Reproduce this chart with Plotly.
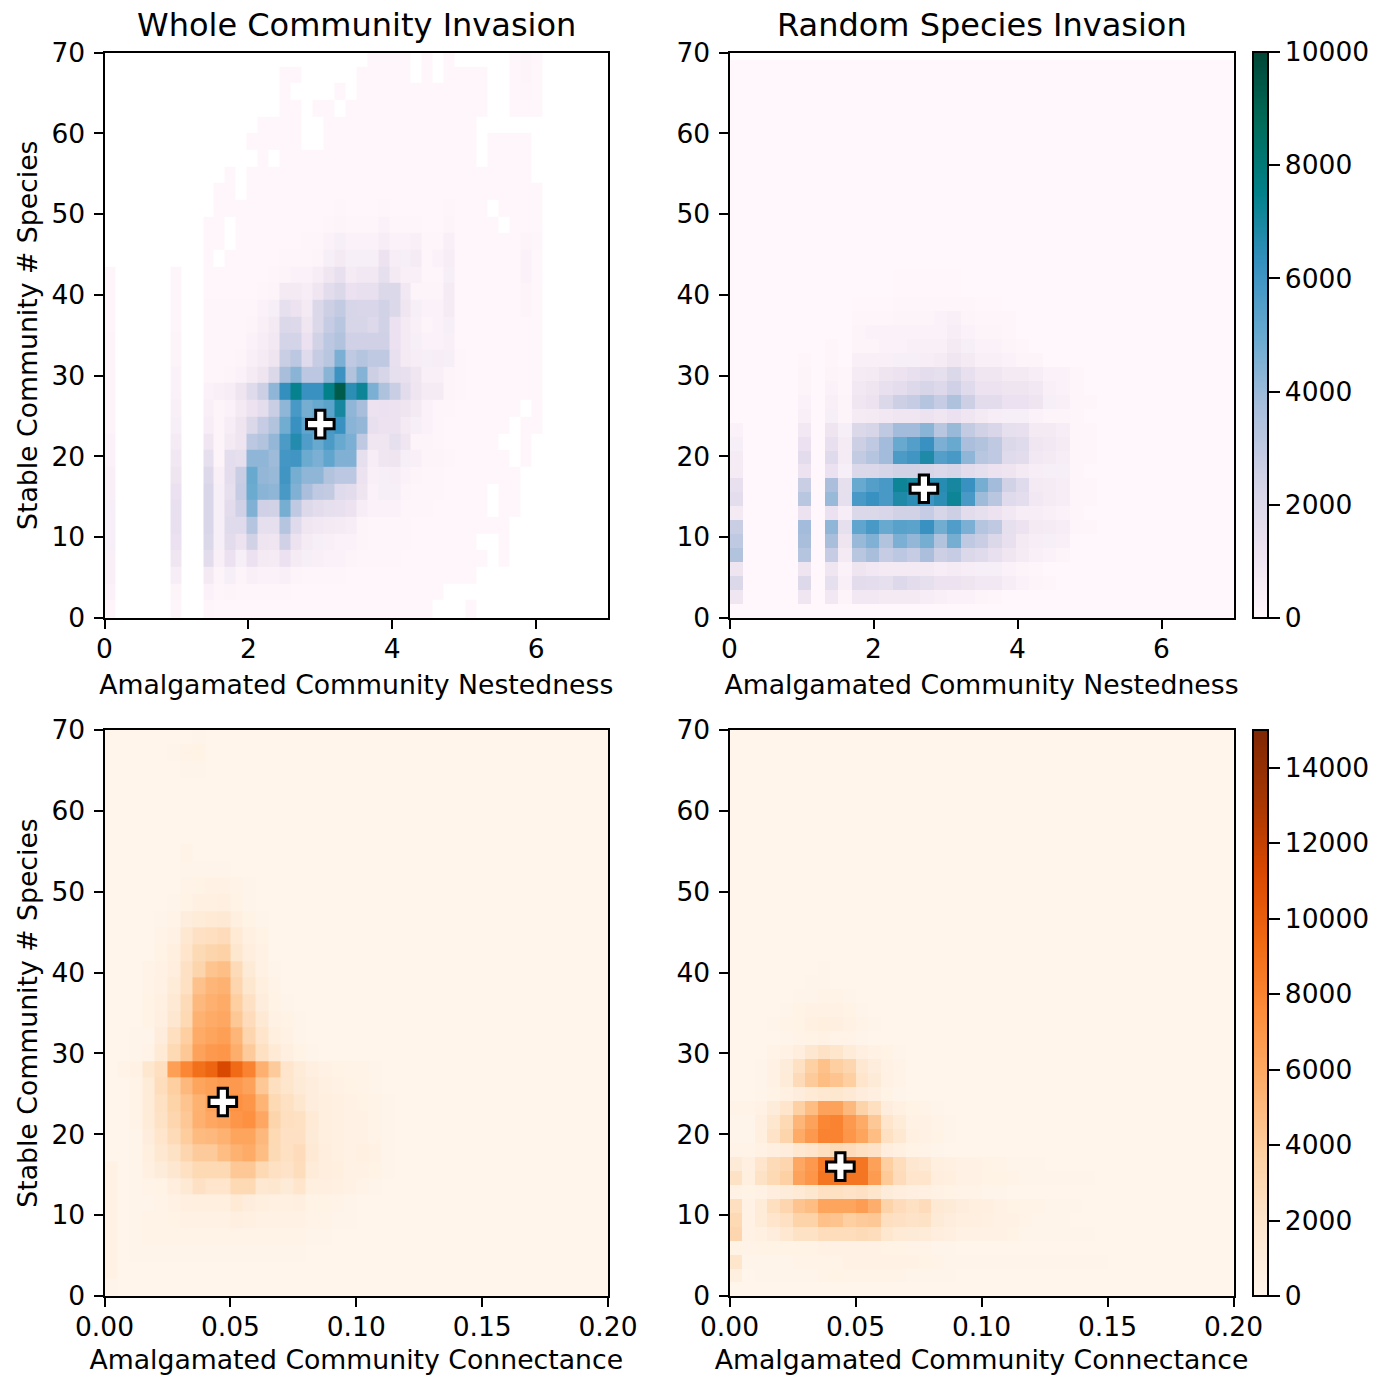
import plotly.graph_objects as go

n = None
TITLES = ["Whole Community Invasion", "Random Species Invasion"]
XLABEL_TOP = "Amalgamated Community Nestedness"
XLABEL_BOT = "Amalgamated Community Connectance"
YLABEL = "Stable Community # Species"
NEST_TICKS = [0, 2, 4, 6]
CONN_TICKS = [0.0, 0.05, 0.10, 0.15, 0.20]
Y_TICKS = [0, 10, 20, 30, 40, 50, 60, 70]
CB_TOP_TICKS = [0, 2000, 4000, 6000, 8000, 10000]
CB_BOT_TICKS = [0, 2000, 4000, 6000, 8000, 10000, 12000, 14000]
MARKER_X = [3.0, 2.7, 0.047, 0.044]
MARKER_Y = [24, 16, 24, 16]

PUBUGN = [[0, "#fff7fb"], [.125, "#ece2f0"], [.25, "#d0d1e6"], [.375, "#a6bddb"], [.5, "#67a9cf"],
          [.625, "#3690c0"], [.75, "#02818a"], [.875, "#016c59"], [1, "#014636"]]
ORANGES = [[0, "#fff5eb"], [.125, "#fee6ce"], [.25, "#fdd0a2"], [.375, "#fdae6b"], [.5, "#fd8d3c"],
           [.625, "#f16913"], [.75, "#d94801"], [.875, "#a63603"], [1, "#7f2704"]]

# Whole community / nestedness, counts in hundreds. Column 0 and 6 by row, then rows from column 9 up to 39.
WN_C0 = [1, 3, 4, 4, 5, 5, 5, 4, 4, 3, 3, 2, 2, 2, 2, 1.5, 1.5, 1, 1, 1, 1]
WN_C6 = [1, 2, 6, 10, 13, 14, 14, 13, 11, 9, 7, 5, 4, 3, 3, 2, 2, 1, 1, 1, 1]
WN_ROWS = [
 [1,.5,.5,.5,.5,.5,.5,.5,.5,.5,.5,.5,.5,.5,.5,.5,.5,.5,.5,.5,.5,n,n,n,.5,n,n,n,n,n,n],
 [3,1,2,1,1,1,1,1,.5,.5,.5,.5,.5,.5,.5,.5,.5,.5,.5,.5,.5,.5,n,n,n,n,n,n,n,n,n],
 [8,2,5,2,4,3,3,4,2,1,1,1,1,.5,.5,.5,.5,.5,.5,.5,.5,.5,.5,.5,.5,n,n,n,n,n,n],
 [17,4,13,5,13,8,7,13,7,5,4,3,3,2,1,1,1,1,.5,.5,.5,.5,.5,.5,.5,.5,n,.5,n,n,n],
 [20,5,17,12,24,11,10,25,12,7,5,4,3,3,2,1,1,1,1,.5,.5,.5,.5,.5,.5,n,n,.5,n,n,n],
 [21,5,18,18,33,15,15,33,18,10,9,8,7,6,2,1,1,1,1,.5,.5,.5,.5,.5,.5,.5,.5,.5,n,n,n],
 [21,5,17,25,45,25,24,47,30,19,17,15,14,12,6,3,3,3,1,1,1,.5,.5,.5,.5,.5,n,.5,.5,n,n],
 [21,5,15,28,49,43,42,58,45,36,30,29,18,17,11,3,5,5,2,1,1,1,.5,.5,.5,.5,n,.5,.5,n,n],
 [19,4,16,27,50,41,40,60,47,42,42,34,31,31,12,4,5,6,3,2,1,1,.5,.5,.5,.5,.5,.5,.5,n,n],
 [15,2,16,15,42,42,39,59,60,49,46,52,45,45,15,6,10,11,5,4,2,2,1,.5,.5,.5,.5,.5,n,.5,n],
 [10,2,8,11,31,34,41,57,67,56,50,57,50,46,30,10,10,15,10,2,2,1,.5,.5,.5,.5,.5,n,n,.5,n],
 [6,2,6,11,20,28,34,48,62,52,54,58,62,43,41,14,12,12,8,5,3,1,.5,.5,.5,.5,.5,.5,n,.5,.5],
 [4,2,3,8,12,16,27,42,58,47,50,53,70,42,37,12,13,12,11,8,3,1,1,.5,.5,.5,.5,.5,.5,n,.5],
 [3,4,6,11,18,26,42,63,74,62,62,75,93,65,72,46,35,27,17,11,7,7,2,1,.5,.5,.5,.5,.5,.5,.5],
 [1,1,2,3,7,11,20,37,43,31,31,43,61,34,44,26,22,15,14,10,4,4,2,1,.5,.5,.5,.5,.5,.5,.5],
 [1,1,1,2,4,7,11,27,31,18,28,32,46,30,33,30,30,14,8,6,5,6,5,1,.5,.5,.5,.5,.5,.5,.5],
 [1,1,1,1,3,6,9,23,23,13,24,31,34,25,25,25,25,13,8,5,3,3,4,.5,.5,.5,.5,.5,.5,.5,.5],
 [1,1,1,1,2,4,8,20,19,10,20,28,32,22,22,19,24,13,8,4,2,3,5,.5,.5,.5,.5,.5,.5,.5,.5],
 [1,1,1,1,1,3,5,15,12,8,20,26,29,22,21,21,24,20,10,5,3,3,7,.5,.5,.5,.5,.5,.5,2,.5],
 [.5,.5,.5,.5,.5,1,2,8,8,6,10,17,20,13,14,14,20,20,9,2,2,2,7,.5,.5,.5,.5,.5,.5,2,.5],
 [.5,.5,.5,.5,.5,.5,1,2,3,3,6,10,14,7,9,9,15,8,4,4,1,1,5,.5,.5,.5,.5,.5,.5,3,.5],
 [.5,n,.5,.5,.5,.5,.5,1,1,1,2,5,8,5,5,5,12,6,5,7,1,3,6,.5,.5,.5,.5,.5,.5,3,.5],
 [.5,.5,n,.5,.5,.5,.5,.5,.5,1,1,3,5,3,3,3,6,3,3,4,1,1,4,.5,.5,.5,.5,.5,.5,2,1],
 [.5,.5,n,.5,.5,.5,.5,.5,.5,.5,.5,1,2,1,1,1,3,1,1,1,.5,.5,2,.5,.5,.5,.5,n,.5,.5,.5],
 [n,.5,.5,.5,.5,.5,.5,.5,.5,.5,.5,.5,1,.5,.5,.5,1,.5,.5,.5,.5,.5,1,.5,.5,.5,n,.5,.5,.5,.5],
 [n,.5,.5,n,.5,.5,.5,.5,.5,.5,.5,.5,.5,.5,.5,.5,.5,.5,.5,.5,.5,.5,.5,.5,.5,.5,.5,.5,.5,.5,.5],
 [n,n,.5,n,.5,.5,.5,.5,.5,.5,.5,.5,.5,.5,.5,.5,.5,.5,.5,.5,.5,.5,.5,.5,.5,.5,.5,.5,.5,.5,n],
 [n,n,n,n,n,.5,n,.5,.5,.5,.5,.5,.5,.5,.5,.5,.5,.5,.5,.5,.5,.5,.5,.5,.5,n,.5,.5,.5,.5,n],
 [n,n,n,n,.5,.5,.5,.5,.5,n,n,.5,.5,.5,.5,.5,.5,.5,.5,.5,.5,.5,.5,.5,.5,n,.5,.5,.5,.5,n],
 [n,n,n,n,n,.5,.5,.5,.5,n,n,.5,.5,.5,.5,.5,.5,.5,.5,.5,.5,.5,.5,.5,.5,n,n,n,n,n,n],
 [n,n,n,n,n,n,n,.5,.5,n,.5,.5,n,.5,.5,.5,.5,.5,.5,.5,.5,.5,.5,.5,.5,.5,n,n,.5,.5,.5],
 [n,n,n,n,n,n,n,.5,n,n,n,n,.5,n,.5,.5,.5,.5,.5,.5,.5,.5,.5,.5,.5,.5,n,n,.5,1,.5],
 [n,n,n,n,n,n,n,.5,.5,n,n,n,n,n,.5,.5,.5,.5,.5,n,.5,n,.5,.5,.5,.5,n,n,.5,2,.5],
 [n,n,n,n,n,n,n,n,n,n,n,n,n,n,n,.5,.5,.5,.5,n,.5,n,.5,n,n,n,n,n,.5,2,.5],
]

# Random species / nestedness, counts in hundreds, rows from column 0.
RN_ROWS = [
 [0],
 [10,0,0,0,0,10,0,9,2,9,9,8,8,8,6,4,3,3,2,1],
 [20,0,0,0,0,19,0,15,4,17,16,15,19,17,15,12,12,11,9,9,6,3,2,1],
 [11,0,0,0,0,11,0,10,3,11,9,8,8,8,8,6,7,6,5,5,3,2,1],
 [34,0,0,0,0,33,0,28,8,32,37,28,31,28,36,26,28,20,18,14,10,7,4,3,2],
 [30,0,0,0,0,37,0,37,11,40,45,34,46,41,47,34,47,30,27,20,14,8,6,5,4],
 [27,0,0,0,0,38,0,42,15,52,58,50,54,53,62,48,56,46,33,30,15,12,8,7,6,1,1],
 [8,0,0,0,0,12,0,13,6,20,20,21,24,24,28,22,26,17,15,12,9,6,6,4,3,1],
 [16,0,0,0,0,32,0,40,15,58,62,58,68,65,60,65,72,58,39,32,18,16,9,7,6,1,1],
 [14,0,0,0,0,27,0,36,15,50,55,58,72,70,66,66,70,62,47,38,24,18,8,7,6,1,1],
 [7,0,0,0,0,12,0,13,5,20,20,22,24,24,22,20,22,17,15,12,11,8,6,5,5,1],
 [7,0,0,0,0,17,0,18,7,29,33,38,57,60,68,55,58,42,32,30,18,17,9,8,6,1,1],
 [5,0,0,0,0,13,0,14,7,26,30,38,50,55,62,46,50,36,34,30,20,18,10,9,7,1,1],
 [3,0,0,0,0,9,0,11,5,20,22,30,38,38,43,32,40,29,24,21,15,14,8,8,6,1,1],
 [0,0,0,0,0,4,0,5,2,7,8,9,10,10,12,10,13,10,8,6,5,5,3,2,2,1],
 [0,0,0,0,0,3,0,4,2,10,12,20,26,28,33,28,35,26,17,17,13,13,11,5,4,1,1],
 [0,0,0,0,0,2,0,3,1,9,11,14,16,19,22,19,25,18,12,12,11,11,9,4,3,1],
 [0,0,0,0,0,2,0,2,1,7,8,11,12,14,16,15,20,14,10,10,8,8,6,3,3,1],
 [0,0,0,0,0,1,0,1,0,4,4,4,5,5,6,7,10,8,4,4,3,2,2],
 [0,0,0,0,0,0,0,1,0,2,2,3,3,4,4,4,8,5,3,3,2,1],
 [0,0,0,0,0,0,0,0,0,2,3,3,3,3,3,3,6,3,2,2,1],
 [0,0,0,0,0,0,0,0,0,1,1,1,2,2,2,3,4,2,1,1,1],
 [0,0,0,0,0,0,0,0,0,.5,.5,.5,1,1,1,1,1,1,.5,.5],
 [0,0,0,0,0,0,0,0,0,0,0,0,.5,.5,.5,.5,.5],
 [0,0,0,0,0,0,0,0,0,0,0,0,.5,.5,.5,.5,.5],
]

# Whole community / connectance, counts in hundreds, rows from column 0.
WC_ROWS = [
 [1,.5,.5,.5,.5,.5,.5,.5,.5,.5,.5,.5,.5,.5],
 [5,.5,.5,.5,.5,.5,.5,.5,.5,.5,.5,.5,.5,.5,.5],
 [5,.5,1,1,1,1,1,1,1,1,1,1,1,1,1,1,.5,.5],
 [5,.5,1,2,2,2,2,2,2,2,2,2,2,2,2,2,1,1,.5],
 [4,.5,1,2,2,3,5,5,5,5,7,6,5,4,4,4,2,2,1,1],
 [4,.5,1,1,2,4,7,8,8,8,14,10,8,6,6,7,3,3,2,1,.5],
 [4,.5,1,2,3,9,15,23,20,20,30,30,16,18,13,20,8,7,6,4,2,1],
 [4,.5,1,6,11,17,24,30,30,30,42,42,30,24,21,26,12,9,8,5,4,3,1],
 [.5,.5,1,8,16,22,32,40,40,48,54,58,48,29,24,27,15,9,6,5,6,5,1],
 [.5,.5,1,10,20,28,39,49,50,54,62,62,50,30,23,23,13,8,6,5,4,2,1],
 [.5,.5,2,12,22,32,42,55,60,63,70,73,60,33,25,24,14,8,6,5,4,2,1],
 [.5,.5,2,12,24,35,44,54,63,70,73,70,53,30,24,18,10,8,6,5,3,2,1],
 [.5,.5,2,12,26,38,50,62,65,68,68,63,42,25,19,13,10,6,5,3,2,1,.5],
 [.5,2,4,18,25,65,78,90,96,113,93,80,55,40,20,12,7,5,3,2,2,1,.5],
 [.5,.5,1,2,14,30,42,63,68,70,56,40,24,14,7,3,1,.5],
 [.5,.5,1,1,10,25,38,58,62,65,52,32,20,8,4,1,.5],
 [.5,.5,.5,3,7,17,30,54,58,60,42,27,15,5,3,1],
 [.5,.5,.5,3,6,15,28,50,55,58,38,23,10,3,1,.5],
 [.5,.5,.5,2,5,12,24,45,52,54,32,18,8,2,.5],
 [.5,.5,.5,2,4,9,23,33,44,47,28,13,5,1,.5],
 [0,.5,.5,.5,3,8,20,29,33,36,18,9,4,.5],
 [0,0,.5,.5,2,5,16,23,25,27,14,6,3,.5],
 [0,0,0,.5,1,2,10,12,14,15,7,3,1],
 [0,0,0,0,.5,1,3,6,6,7,3,1],
 [0,0,0,0,.5,.5,2,3,4,4,2,1,.5],
 [0,0,0,0,.5,.5,1,1,.8,.8,.5],
 [0,0,0,0,.5,.5,2,.5,.5,.5],
 [0,0,0,0,0,0,.6],
 [0,0,0,0,0,0,.6],
 [0],
 [0,0,0,0,0,0,.5,.5],
 [0,0,0,0,0,0,1,1],
 [0,0,0,0,0,1.5,2.5,3],
 [0,0,0,0,0,0,.5,1],
]

# Random species / connectance, counts in hundreds, rows from column 0.
RC_ROWS = [
 [0],
 [8,.5,1,1,1,1,1,2,3,2,2,2,2,2,1,1,1,1,.5,.5,.5,.5,.5,.5,.5,.5,.5,.5,.5,.5],
 [19,1,1,1,1,2,2,2,2,4,5,5,5,4,4,3,2,1.5,1,1,1,1,1,1,1,1,1,1,1,1],
 [3,2,3,3,3,3,3,4,4,5,4,4,3,3,2,2,1,1,.5,.5,.5,.5,.5,.5,.5],
 [32,4,6,10,16,22,22,26,26,26,28,26,18,14,13,12,9,7,5,5,4,4,3,1.5,1,1,1,1,1],
 [30,4,12,20,24,34,34,46,44,38,40,42,25,23,21,22,13,10,8,7,6,5,4,2,1.5,1,1],
 [25,4,12,25,32,44,48,62,62,62,66,56,34,27,24,27,15,13,10,8,7,5,3,2,2,1,1,1],
 [4,3,5,9,11,14,18,24,24,21,23,19,11,9,7,6,4,3,2,2,1,1,.5],
 [22,8,22,30,37,63,70,87,87,87,87,67,41,27,20,20,9,8,5,4,3,3,2,1,1,1,1,1,1],
 [13,7,20,28,32,60,68,85,87,88,87,64,38,26,17,15,8,6,5,4,3,2,1,1,1],
 [2,2,4,7,10,16,20,25,29,27,24,21,9,6,3,2,1],
 [1,1,8,21,33,58,68,80,80,70,62,48,24,16,6,5,3,1],
 [1,1,7,18,30,52,63,78,80,68,58,42,20,12,5,4,2,1],
 [2,2,5,11,20,37,48,63,63,50,34,25,10,6,3,2,1],
 [0,0,1,3,6,10,14,16,18,15,10,7,3,1],
 [0,0,1,5,12,28,40,48,44,38,20,13,5,2],
 [0,0,1,5,11,24,37,46,38,32,16,10,4,2],
 [0,0,.5,2,5,9,17,22,19,12,7,5,3,1],
 [0,0,0,0,1,2,3,4,3.5,2,1],
 [0,0,0,1,2,3,6,8,7,4,2,1],
 [0,0,0,.5,1,3,5,5,4,3,1],
 [0,0,0,0,.5,1,1.5,2,2,1],
 [0,0,0,0,0,.5,1,1,.5,.5],
 [0,0,0,0,0,.5,.5,1,.5],
 [0,0,0,0,0,0,.5,.5,.5],
]


def pad(row, size, fill):
    return (list(row) + [fill] * size)[:size]


def scaled(rows, cols, fill=0):
    return [[None if v is None else v * 100 for v in pad(r, cols, fill)] for r in rows]


WN_X = [7 * k / 46 for k in range(47)]
RN_X = [7 * k / 37 for k in range(38)]
CONN_X = [0.2 * k / 40 for k in range(41)]
COARSE_Y = [0] + [0.16 + 2.064 * k for k in range(1, 35)]
FINE_Y = [1.727 * k for k in range(41)]
FINE_Y2 = [1.727 * k for k in range(42)]

wn = []
for k in range(34):
    c0 = WN_C0[k] if k < len(WN_C0) else None
    c6 = WN_C6[k] if k < len(WN_C6) else None
    wn.append([c0, n, n, n, n, n, c6, n, n] + pad(WN_ROWS[k], 31, None) + [n] * 6)
z_wn = scaled(wn, 46, None)
z_rn = scaled(pad(RN_ROWS, 40, [0]), 37, 0)
z_wc = scaled(pad(WC_ROWS, 34, [0]), 40, 0)
z_rc = scaled(pad(RC_ROWS, 41, [0]), 40, 0)

W, H = 1387, 1375
XD = [(104.5 / W, 608 / W), (729.5 / W, 1233.5 / W)]
YD = [(1 - 618 / H, 1 - 52.5 / H), (1 - 1296 / H, 1 - 730 / H)]
FONT = "DejaVu Sans"
TICK = 26.5
LABEL = 26.7

fig = go.Figure()
panels = [
    (z_wn, WN_X, COARSE_Y, PUBUGN, 10000, 1, 1, None),
    (z_rn, RN_X, FINE_Y, PUBUGN, 10000, 2, 2, dict(tickvals=CB_TOP_TICKS, y=YD[0][0], len=YD[0][1] - YD[0][0])),
    (z_wc, CONN_X, COARSE_Y, ORANGES, 15000, 3, 3, None),
    (z_rc, CONN_X, FINE_Y2, ORANGES, 15000, 4, 4, dict(tickvals=CB_BOT_TICKS, y=YD[1][0], len=YD[1][1] - YD[1][0])),
]
for i, (z, x, y, cs, vmax, xa, ya, cb) in enumerate(panels):
    suffix = "" if xa == 1 else str(xa)
    kw = dict(z=z, x=x, y=y, colorscale=cs, zmin=0, zmax=vmax, xaxis="x" + suffix, yaxis="y" + suffix,
              zsmooth=False, hoverongaps=False)
    if cb:
        kw["showscale"] = True
        kw["colorbar"] = dict(tickvals=cb["tickvals"], y=cb["y"], yanchor="bottom", len=cb["len"], lenmode="fraction",
                              x=1253 / W, xanchor="left", thickness=15, thicknessmode="pixels", xpad=0, ypad=0,
                              outlinewidth=2, outlinecolor="black", ticks="outside", ticklen=11, tickwidth=2,
                              tickcolor="black", tickfont=dict(family=FONT, size=TICK, color="black"), tickformat="d")
    else:
        kw["showscale"] = False
    fig.add_trace(go.Heatmap(**kw))
    fig.add_trace(go.Scatter(x=[MARKER_X[i]], y=[MARKER_Y[i]], mode="markers", xaxis="x" + suffix, yaxis="y" + suffix,
                             showlegend=False,
                             marker=dict(symbol="cross", size=23, color="white", line=dict(color="black", width=3))))

axis = dict(showline=True, mirror=True, linecolor="black", linewidth=2, ticks="outside", ticklen=9, tickwidth=2,
            tickcolor="black", showgrid=False, zeroline=False, tickfont=dict(family=FONT, size=TICK, color="black"),
            layer="above traces", automargin=False)
title_font = dict(family=FONT, size=LABEL, color="black")
layout = dict(template="none", width=W, height=H, margin=dict(l=0, r=0, t=0, b=0, pad=0), paper_bgcolor="white",
              plot_bgcolor="white", showlegend=False, font=dict(family=FONT, color="black"))
for idx in range(4):
    suffix = "" if idx == 0 else str(idx + 1)
    col = idx % 2
    row = idx // 2
    xvals = NEST_TICKS if row == 0 else CONN_TICKS
    layout["xaxis" + suffix] = dict(axis, domain=XD[col], range=[0, 7] if row == 0 else [0, 0.2], tickvals=xvals,
                                    ticklabelstandoff=-3,
                                    tickformat="d" if row == 0 else ".2f", anchor="y" + suffix,
                                    title=dict(text=XLABEL_TOP if row == 0 else XLABEL_BOT, font=title_font, standoff=13))
    ya = dict(axis, domain=YD[row], range=[0, 70], tickvals=Y_TICKS, anchor="x" + suffix, ticklabelstandoff=3)
    if col == 0:
        ya["title"] = dict(text=YLABEL, font=title_font, standoff=6)
    layout["yaxis" + suffix] = ya
annotations = []
for col in range(2):
    annotations.append(dict(text=TITLES[col], xref="paper", yref="paper", x=(XD[col][0] + XD[col][1]) / 2,
                            y=YD[0][1], yanchor="bottom", yshift=7, xanchor="center", showarrow=False,
                            font=dict(family=FONT, size=32, color="black")))
layout["annotations"] = annotations
fig.update_layout(**layout)
fig.write_html("out.html", config=dict(displayModeBar=False), post_script="document.body.style.margin='0';")
